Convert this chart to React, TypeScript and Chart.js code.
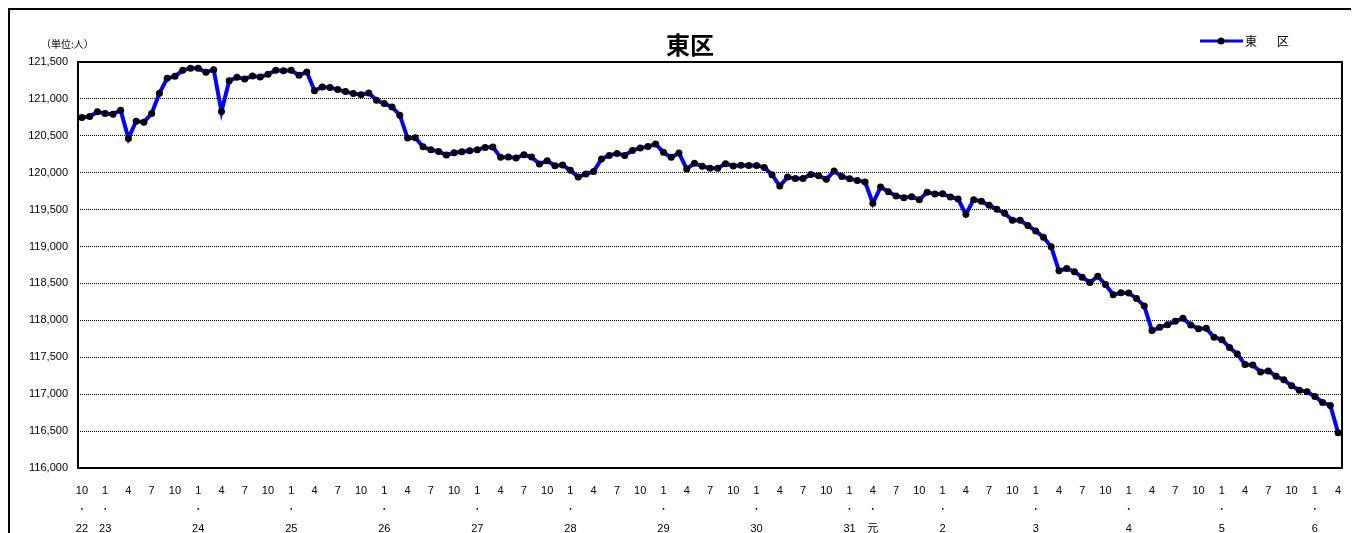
import React, { useEffect, useRef } from "react";
import { Chart, registerables } from "chart.js";

Chart.register(...registerables);

// Monthly population, Oct H22 (2010) .. Apr R6 (2024)
const populationValues: number[] = [
  120748, 120762, 120825, 120802, 120793, 120847, 120465, 120699, 120685, 120802,
  121076, 121279, 121306, 121387, 121414, 121414, 121360, 121396, 120829, 121247,
  121292, 121270, 121310, 121297, 121333, 121387, 121382, 121387, 121319, 121364,
  121112, 121162, 121153, 121126, 121099, 121072, 121058, 121081, 120982, 120937,
  120892, 120779, 120470, 120473, 120352, 120311, 120289, 120240, 120271, 120285,
  120298, 120311, 120343, 120347, 120208, 120213, 120199, 120244, 120213, 120118,
  120163, 120096, 120105, 120033, 119941, 119983, 120015, 120186, 120235, 120262,
  120235, 120302, 120334, 120356, 120388, 120276, 120208, 120267, 120051, 120127,
  120087, 120060, 120060, 120123, 120091, 120102, 120099, 120099, 120072, 119973,
  119820, 119941, 119923, 119923, 119977, 119959, 119910, 120022, 119950, 119919,
  119896, 119874, 119586, 119806, 119743, 119685, 119660, 119676, 119635, 119734,
  119712, 119716, 119671, 119644, 119437, 119635, 119612, 119558, 119504, 119450,
  119356, 119356, 119284, 119212, 119126, 118996, 118672, 118703, 118660, 118585,
  118513, 118599, 118486, 118347, 118374, 118369, 118297, 118194, 117861, 117906,
  117942, 117987, 118027, 117937, 117888, 117892, 117771, 117739, 117631, 117543,
  117401, 117396, 117302, 117315, 117243, 117194, 117113, 117054, 117032, 116969,
  116888, 116847, 116478,
];

// Tick labels, one per quarter (every 3rd month)
const tickMonths: string[] = [
  "10", "1", "4", "7", "10", "1", "4", "7", "10", "1", "4", "7", "10", "1",
  "4", "7", "10", "1", "4", "7", "10", "1", "4", "7", "10", "1", "4", "7",
  "10", "1", "4", "7", "10", "1", "4", "7", "10", "1", "4", "7", "10", "1",
  "4", "7", "10", "1", "4", "7", "10", "1", "4", "7", "10", "1", "4",
];
const tickYears: string[] = [
  "22", "23", "", "", "", "24", "", "", "", "25", "", "", "", "26",
  "", "", "", "27", "", "", "", "28", "", "", "", "29", "", "",
  "", "30", "", "", "", "31", "元", "", "", "2", "", "", "", "3",
  "", "", "", "4", "", "", "", "5", "", "", "", "6", "",
];

const seriesName = "東　区";
const chartTitle = "東区";
const unitLabel = "（単位:人）";

const yMin = 116000;
const yMax = 121500;
const yStep = 500;

const categories: string[] = populationValues.map((_, i) => String(i));

const FONT = "'Liberation Sans', 'Noto Sans CJK JP', sans-serif";
const CJK = "'Noto Sans CJK JP', 'Liberation Sans', sans-serif";

export default function App() {
  const ref = useRef<HTMLCanvasElement | null>(null);

  useEffect(() => {
    if (!ref.current) return;
    const deco = {
      id: "deco",
      afterDraw(chart: any) {
        const ctx = chart.ctx as CanvasRenderingContext2D;
        const a = chart.chartArea;
        ctx.save();
        ctx.strokeStyle = "#000";
        ctx.lineWidth = 2;
        ctx.strokeRect(a.left, a.top, a.right - a.left, a.bottom - a.top);

        ctx.fillStyle = "#000";
        ctx.textBaseline = "middle";
        ctx.textAlign = "center";
        ctx.font = `bold 24px ${CJK}`;
        ctx.fillText(chartTitle, 680, 35);

        ctx.textAlign = "left";
        ctx.font = `10px ${CJK}`;
        ctx.fillText(unitLabel, 31, 34);

        // legend
        ctx.strokeStyle = "#0000FF";
        ctx.lineWidth = 3;
        ctx.beginPath();
        ctx.moveTo(1190, 31);
        ctx.lineTo(1233, 31);
        ctx.stroke();
        ctx.fillStyle = "#000";
        ctx.beginPath();
        ctx.arc(1211, 31, 3.5, 0, Math.PI * 2);
        ctx.fill();
        ctx.font = `12px ${CJK}`;
        (ctx as any).letterSpacing = "4px";
        ctx.fillText(seriesName, 1235, 31);
        ctx.restore();
      },
    };

    const chart = new Chart(ref.current, {
      type: "line",
      data: {
        labels: categories,
        datasets: [
          {
            label: seriesName,
            data: populationValues,
            borderColor: "#0000FF",
            borderWidth: 4,
            pointRadius: 3.5,
            pointBackgroundColor: "#000",
            pointBorderColor: "#000",
            pointBorderWidth: 0,
            tension: 0,
          },
        ],
      },
      options: {
        responsive: false,
        animation: false,
        devicePixelRatio: 1,
        layout: { padding: { left: 0, top: 52, right: 38, bottom: 0 } },
        plugins: {
          legend: { display: false },
          title: { display: false },
          tooltip: { enabled: false },
        },
        scales: {
          x: {
            type: "category",
            offset: true,
            grid: { display: false, drawTicks: false },
            border: { display: false },
            ticks: {
              autoSkip: false,
              maxRotation: 0,
              minRotation: 0,
              padding: 13,
              color: "#000",
              font: { family: FONT, size: 11, lineHeight: 1.75 },
              callback: (_v: any, i: number) => {
                if (i % 3 !== 0) return "";
                const k = i / 3;
                const y = tickYears[k] || "";
                return [tickMonths[k], y ? "･" : "", y];
              },
            },
            afterFit: (s: any) => {
              s.height = 72;
            },
          },
          y: {
            min: yMin,
            max: yMax,
            grid: { color: "#000", lineWidth: 1, drawTicks: false },
            border: { display: false, dash: [1, 1] },
            ticks: {
              stepSize: yStep,
              padding: 10,
              color: "#000",
              font: { family: FONT, size: 11 },
            },
            afterFit: (s: any) => {
              s.width = 68;
            },
          },
        },
      },
      plugins: [deco],
    } as any);
    return () => chart.destroy();
  }, []);

  return (
    <div
      style={{
        position: "relative",
        width: 1400,
        height: 560,
        border: "2px solid #000",
        boxSizing: "content-box",
        background: "#fff",
      }}
    >
      <style>{"html,body{overflow:hidden}"}</style>
      <canvas
        ref={ref}
        width={1370}
        height={530}
        style={{ display: "block", width: 1370, height: 530 }}
      />
    </div>
  );
}
